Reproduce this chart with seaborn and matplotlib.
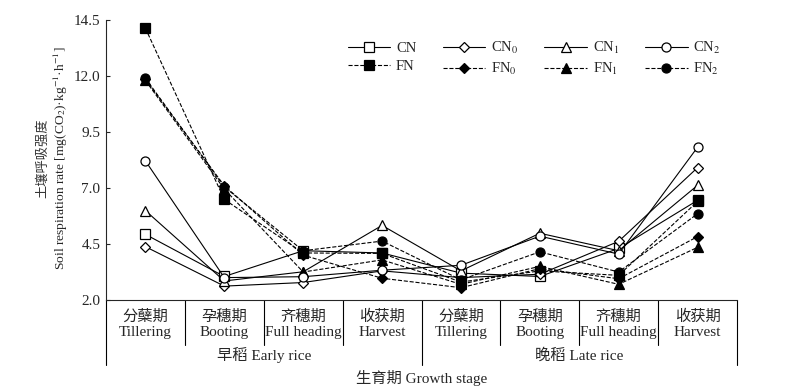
import numpy as np
import pandas as pd
import matplotlib
matplotlib.use("Agg")
import matplotlib.pyplot as plt
import matplotlib.transforms as mtransforms
import seaborn as sns

# ---------------- data ----------------
stages_cn = ["分蘖期", "孕穗期", "齐穗期", "收获期", "分蘖期", "孕穗期", "齐穗期", "收获期"]
stages_en = ["Tillering", "Booting", "Full heading", "Harvest",
             "Tillering", "Booting", "Full heading", "Harvest"]
groups = ["早稻 Early rice", "晚稻 Late rice"]
yticks = [2.0, 4.5, 7.0, 9.5, 12.0, 14.5]

CN  = [4.93, 3.05, 4.20, 4.10, 3.20, 3.05, 4.30, 6.45]
CN0 = [4.38, 2.62, 2.78, 3.30, 3.00, 3.15, 4.62, 7.91]
CN1 = [5.99, 2.85, 3.26, 5.33, 3.30, 4.98, 4.20, 7.12]
CN2 = [8.21, 3.00, 3.04, 3.33, 3.55, 4.85, 4.05, 8.82]
FN  = [14.13, 6.49, 4.10, 4.08, 2.80, 3.30, 3.10, 6.40]
FN0 = [11.85, 7.10, 4.00, 2.97, 2.55, 3.40, 2.95, 4.83]
FN1 = [11.80, 6.95, 3.25, 3.79, 2.70, 3.50, 2.70, 4.35]
FN2 = [11.90, 7.05, 4.20, 4.63, 2.90, 4.15, 3.25, 5.85]

series = [
    ("CN", CN, "s", "-", "white"),
    ("FN", FN, "s", "--", "black"),
    ("CN$_0$", CN0, "D", "-", "white"),
    ("FN$_0$", FN0, "D", "--", "black"),
    ("CN$_1$", CN1, "^", "-", "white"),
    ("FN$_1$", FN1, "^", "--", "black"),
    ("CN$_2$", CN2, "o", "-", "white"),
    ("FN$_2$", FN2, "o", "--", "black"),
]

# ---------------- style ----------------
sns.set_style("ticks")
plt.rcParams["font.family"] = ["Liberation Serif", "Noto Sans CJK SC"]
plt.rcParams["mathtext.fontset"] = "stix"
plt.rcParams["font.size"] = 10.5

fig = plt.figure(figsize=(7.92, 3.91), dpi=100)
ax = fig.add_axes([106/792, 1-300/391, (737-106)/792, 280/391])

x = np.arange(len(stages_en))
for name, vals, mk, ls, fc in series:
    ms = 5.5 if mk == "D" else 6.5
    sns.lineplot(x=x, y=vals, ax=ax, color="black", linewidth=0.8,
                 linestyle=ls, marker=mk, markersize=ms,
                 markerfacecolor=fc, markeredgecolor="black",
                 markeredgewidth=0.9, label=name)

ax.set_xlim(-0.5, 7.5)
ax.set_ylim(2.0, 14.5)
ax.set_yticks(yticks)
ax.set_yticklabels([f"{v:.1f}" for v in yticks], fontsize=11)
ax.set_xticks([])
ax.set_xlabel("")
ax.set_ylabel("")
for s in ["top", "right"]:
    ax.spines[s].set_visible(False)
for s in ["left", "bottom"]:
    ax.spines[s].set_linewidth(0.8)
ax.tick_params(axis="y", direction="in", length=3, width=0.8, pad=4)

trans = mtransforms.blended_transform_factory(ax.transData, ax.transAxes)
# separators
for i in range(1, 8):
    bottom = -0.232 if i == 4 else -0.161
    ax.plot([i - 0.5, i - 0.5], [0, bottom], transform=trans, color="black",
            lw=0.8, clip_on=False)
ax.plot([7.5, 7.5], [0, -0.232], transform=trans, color="black", lw=0.8, clip_on=False)
ax.plot([-0.5, -0.5], [0, -0.232], transform=trans, color="black", lw=0.8, clip_on=False)

for i in range(8):
    ax.text(i, -0.061, stages_cn[i], transform=trans, ha="center", va="center", fontsize=11)
    ax.text(i, -0.116, stages_en[i], transform=trans, ha="center", va="center", fontsize=11)
ax.text(1.5, -0.198, groups[0], transform=trans, ha="center", va="center", fontsize=11)
ax.text(5.5, -0.198, groups[1], transform=trans, ha="center", va="center", fontsize=11)
ax.text(3.5, -0.28, "生育期 Growth stage", transform=trans, ha="center", va="center", fontsize=11)

fig.text(43/792, 1-158/391, "土壤呼吸强度", rotation=90, ha="center", va="center",
         fontsize=9.5, color="#333333")
fig.text(61/792, 1-158/391,
         "Soil respiration rate [mg(CO$_2$)·kg$^{-1}$·h$^{-1}$]",
         rotation=90, ha="center", va="center", fontsize=9.7)

leg = ax.legend(ncol=4, loc="upper left", bbox_to_anchor=((342-106)/631, 0.95),
                frameon=False, handlelength=2.9, handletextpad=0.4,
                columnspacing=1.8, labelspacing=0.35, fontsize=10.5,
                borderaxespad=0)

fig.savefig("out.png", dpi=100)
